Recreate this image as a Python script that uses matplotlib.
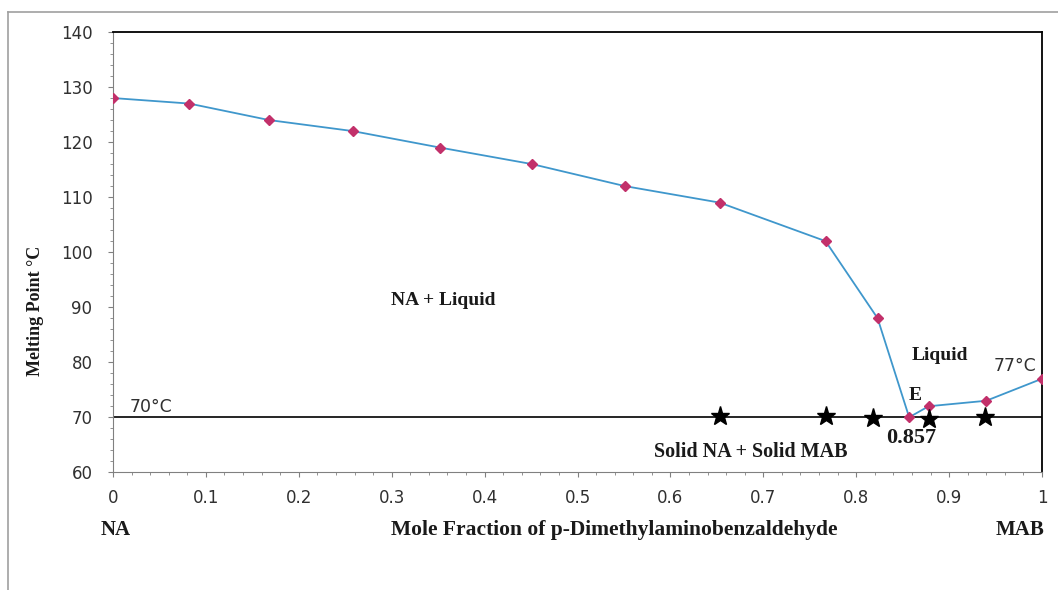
import matplotlib
matplotlib.use("Agg")
import matplotlib.pyplot as plt
from matplotlib.ticker import MultipleLocator
from matplotlib.lines import Line2D

# liquidus points (mole fraction of MAB, melting point in C)
mole_frac = [0.0, 0.082, 0.168, 0.258, 0.352, 0.451, 0.551, 0.653, 0.767,
             0.823, 0.857, 0.878, 0.940, 1.0]
melt_pt = [128, 127, 124, 122, 119, 116, 112, 109, 102, 88, 70, 72, 73, 77]

# thaw points (eutectic arrests)
star_x = [0.653, 0.767, 0.818, 0.878, 0.939]
star_y = [70.3, 70.3, 69.9, 69.6, 70.1]

eutectic_t = 70

W, H = 1058, 590
fig = plt.figure(figsize=(W / 100, H / 100), dpi=100)
ax = fig.add_axes([113 / W, 1 - 472.3 / H, (1042 - 113) / W, (472.3 - 32) / H])

ax.plot(mole_frac, melt_pt, color='#3f97cc', lw=1.3, marker='D',
        markersize=5, markerfacecolor='#c2306a', markeredgecolor='#c2306a',
        zorder=3)
ax.plot([0, 1], [eutectic_t, eutectic_t], color='black', lw=1.2, zorder=2)
ax.plot(star_x, star_y, linestyle='none', marker='*', color='black',
        markersize=14, zorder=4)

ax.set_xlim(0, 1)
ax.set_ylim(60, 140)
ax.xaxis.set_minor_locator(MultipleLocator(0.02))
ax.yaxis.set_major_locator(MultipleLocator(10))
ax.yaxis.set_minor_locator(MultipleLocator(2))
ax.set_xticks([i / 10 for i in range(11)])
ax.set_xticklabels(['0', '0.1', '0.2', '0.3', '0.4', '0.5', '0.6', '0.7',
                    '0.8', '0.9', '1'])

ax.tick_params(which='major', direction='out', length=3.8, color='#808080',
               labelsize=12, labelcolor='#303030')
ax.tick_params(which='minor', direction='out', length=2.2, color='#808080')
ax.tick_params(axis='y', which='major', pad=11)
ax.tick_params(axis='x', which='major', pad=8)
ax.spines['left'].set_color('#808080')
ax.spines['bottom'].set_color('#808080')
ax.spines['top'].set_color('black')
ax.spines['right'].set_color('black')
ax.spines['top'].set_linewidth(1.3)
ax.spines['right'].set_linewidth(1.3)

serif = dict(family='Liberation Serif', fontweight='bold', color='#1a1a1a')
ax.text(0.356, 91.3, 'NA + Liquid', ha='center', va='center', fontsize=14, **serif)
ax.text(0.890, 81.2, 'Liquid', ha='center', va='center', fontsize=14, **serif)
ax.text(0.863, 73.9, 'E', ha='center', va='center', fontsize=14, **serif)
ax.text(0.859, 66.2, '0.857', ha='center', va='center', fontsize=16, **serif)
ax.text(0.686, 63.6, 'Solid NA + Solid MAB', ha='center', va='center',
        fontsize=14.5, **serif)
ax.text(0.971, 79.3, '77°C', ha='center', va='center', fontsize=12.5, color='#303030')
ax.text(0.041, 71.8, '70°C', ha='center', va='center', fontsize=12.5, color='#303030')

fig.text(35 / W, 1 - 311 / H, 'Melting Point °C', rotation=90, ha='center',
         va='center', fontsize=13, **serif)
fig.text(116 / W, 1 - 530 / H, 'NA', ha='center', va='center', fontsize=15, **serif)
fig.text(614 / W, 1 - 530 / H, 'Mole Fraction of p-Dimethylaminobenzaldehyde',
         ha='center', va='center', fontsize=15.5, **serif)
fig.text(1020 / W, 1 - 530 / H, 'MAB', ha='center', va='center', fontsize=15, **serif)

# outer frame lines (top and left visible in the original crop)
fig.add_artist(Line2D([8 / W, 1], [1 - 12 / H, 1 - 12 / H], color='#a0a0a0',
                      lw=1.2, transform=fig.transFigure))
fig.add_artist(Line2D([8 / W, 8 / W], [0, 1 - 12 / H], color='#a0a0a0',
                      lw=1.2, transform=fig.transFigure))

fig.savefig('out.png', dpi=100)
